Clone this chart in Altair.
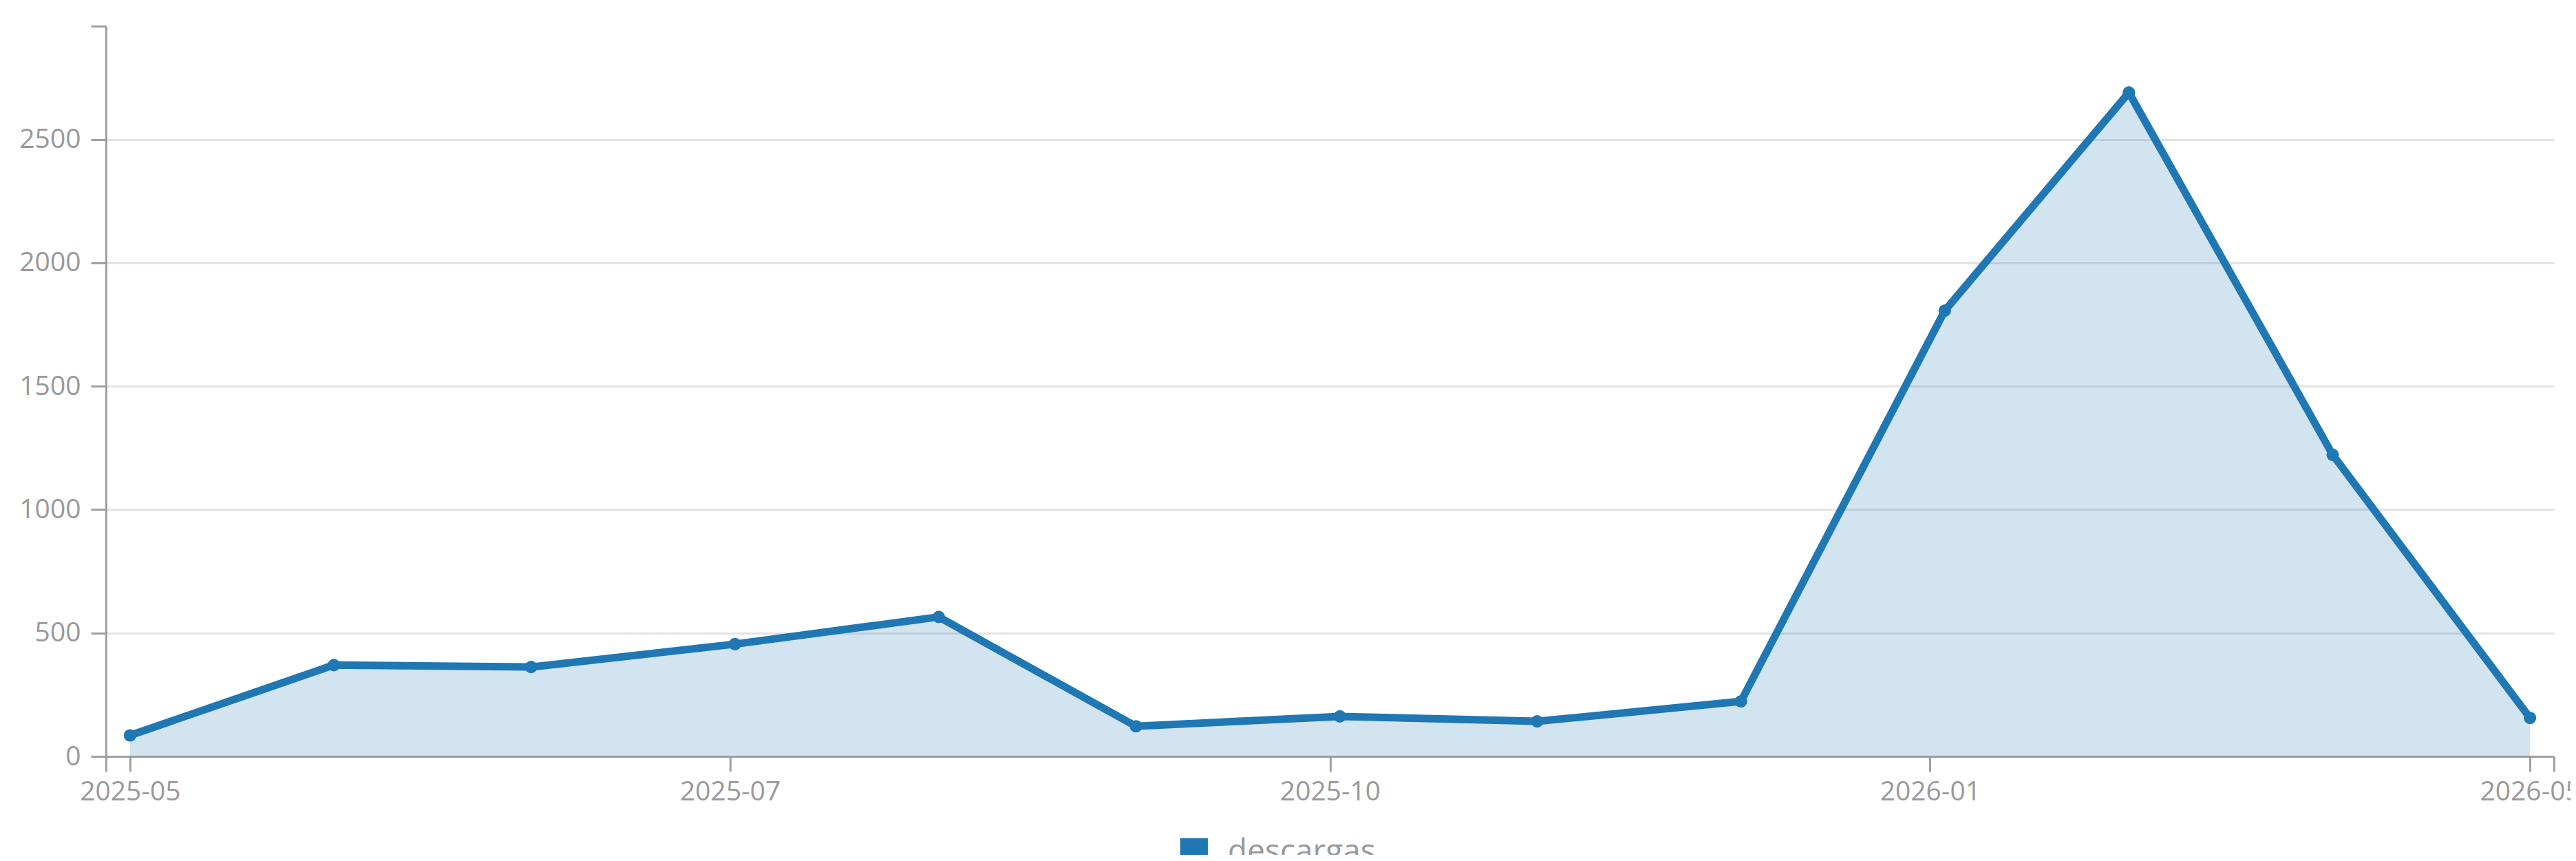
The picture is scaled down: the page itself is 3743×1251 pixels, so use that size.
import altair as alt
import pandas as pd

# ---- data ----
fechas = ["2025-05-01", "2025-06-01", "2025-07-01", "2025-08-01", "2025-09-01",
          "2025-10-01", "2025-11-01", "2025-12-01", "2026-01-01", "2026-02-01",
          "2026-03-01", "2026-04-01", "2026-05-01"]
descargas = [85, 370, 362, 455, 565, 122, 162, 142, 223, 1806, 2690, 1222, 156]
serie = "descargas"
y_ticks = [0, 500, 1000, 1500, 2000, 2500]

df = pd.DataFrame({"fecha": fechas, "descargas": descargas, "serie": serie})

# time extents (UTC ms)
t0 = pd.Timestamp(fechas[0], tz="UTC").value // 10**6
t1 = pd.Timestamp(fechas[-1], tz="UTC").value // 10**6
span = t1 - t0
x_dom = [t0 - 0.01 * span, t1 + 0.01 * span]
x_ticks = [x_dom[0]] + [t0 + k * span / 4 for k in range(5)] + [x_dom[1]]
y_max = max(descargas) * 1.1

BLUE = "#1f77b4"
AXIS = "#a0a0a0"
TEXT = "#999999"
FONT = "Open Sans"

x_enc = alt.X(
    "fecha:T",
    title="",
    scale=alt.Scale(type="utc", domain=x_dom, nice=False),
    axis=alt.Axis(
        values=x_ticks,
        grid=False,
        labelExpr=f"(datum.value < {t0 - 1} || datum.value > {t1 + 1}) ? '' : utcFormat(datum.value, '%Y-%m')",
        labelPadding=10,
        labelFlush=False,
        labelOverlap=False,
    ),
)
y_enc = alt.Y(
    "descargas:Q",
    title="",
    scale=alt.Scale(domain=[0, y_max], nice=False),
    axis=alt.Axis(
        values=y_ticks + [y_max],
        format="d",
        labelExpr="datum.value > 2600 ? '' : datum.label",
        gridOpacity={"condition": {"test": "datum.value > 2600", "value": 0}, "value": 1},
        labelPadding=15,
        labelFlush=False,
        labelOverlap=False,
    ),
)

base = alt.Chart(df)
area = base.mark_area(color=BLUE, opacity=0.2).encode(x=x_enc, y=y_enc)
line = base.mark_line(color=BLUE, strokeWidth=11).encode(x=x_enc, y=y_enc)
points = base.mark_point(filled=True, opacity=1, size=330).encode(
    x=x_enc,
    y=y_enc,
    color=alt.Color(
        "serie:N",
        scale=alt.Scale(range=[BLUE]),
        legend=alt.Legend(
            title="",
            orient="none",
            legendX=1558,
            legendY=1177,
            symbolType="square",
            symbolSize=1600,
            symbolStrokeWidth=0,
            symbolOpacity=1,
            labelFontSize=46,
            labelFont=FONT,
            labelColor=TEXT,
            labelOffset=26,
            labelLimit=1000,
            padding=0,
        ),
    ),
)

chart = (
    alt.layer(area, line, points)
    .properties(
        width=3557,
        height=1061,
        autosize=alt.AutoSizeParams(type="none"),
        padding={"left": 146, "top": 30, "right": 24, "bottom": 143},
    )
    .configure_view(strokeWidth=0)
    .configure_axis(
        labelFont=FONT,
        labelFontSize=39,
        labelColor=TEXT,
        domainColor=AXIS,
        domainWidth=3,
        tickColor=AXIS,
        tickWidth=3,
        tickSize=22,
        gridColor="#e3e3e3",
        gridWidth=3,
    )
)

chart.save("out.html", embed_options={"renderer": "svg", "actions": False})
